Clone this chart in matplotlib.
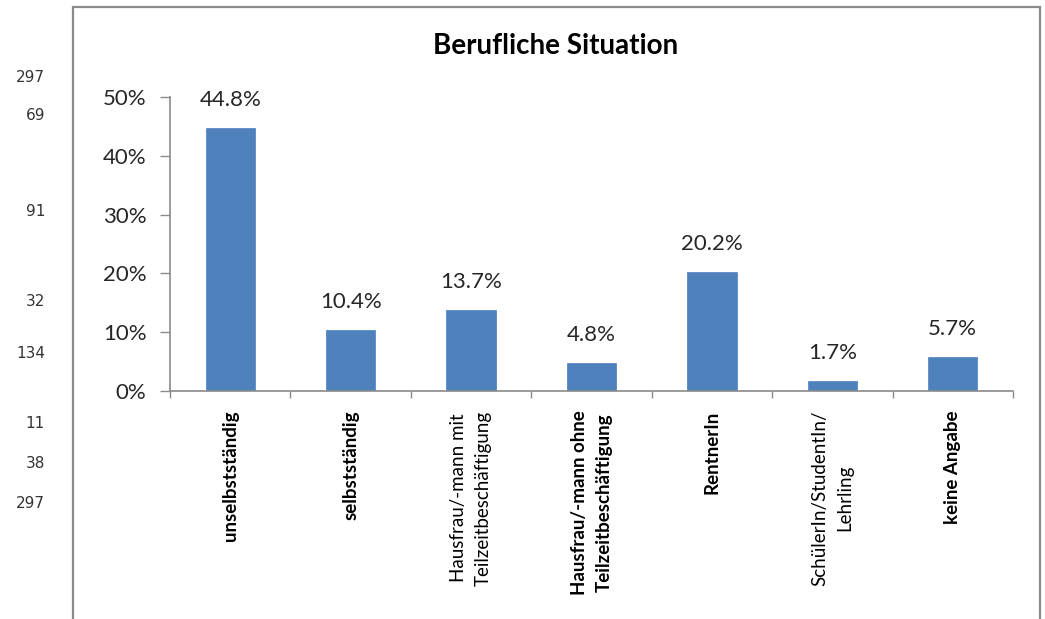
import matplotlib.pyplot as plt
import matplotlib.patches as mpatches

# %%
# Data
categories = [
    "unselbstständig",
    "selbstständig",
    "Hausfrau/-mann mit\nTeilzeitbeschäftigung",
    "Hausfrau/-mann ohne\nTeilzeitbeschäftigung",
    "RentnerIn",
    "SchülerIn/StudentIn/\nLehrling",
    "keine Angabe",
]
shares = [0.448, 0.104, 0.137, 0.048, 0.202, 0.017, 0.057]
share_labels = ["44.8%", "10.4%", "13.7%", "4.8%", "20.2%", "1.7%", "5.7%"]
yticks = [0, 0.1, 0.2, 0.3, 0.4, 0.5]
ytick_labels = ["0%", "10%", "20%", "30%", "40%", "50%"]

# numbers standing left of the chart frame
side_numbers = ["297", "69", "91", "32", "134", "11", "38", "297"]
side_y_px = [77, 116, 212, 302, 353, 423, 463, 503]

# %%
# Figure and frame
font = ["Lato", "DejaVu Sans"]
W, H = 1045, 619
fig = plt.figure(figsize=(W / 100, H / 100), dpi=100)

# chart frame (open at the bottom)
frame = mpatches.Rectangle(
    (73 / W, 1 - 630 / H), (1040 - 73) / W, (630 - 7) / H,
    transform=fig.transFigure, fill=False, edgecolor="#8a8a8a", lw=1.6,
)
fig.patches.append(frame)

for txt, ypx in zip(side_numbers, side_y_px):
    fig.text(45 / W, 1 - ypx / H, txt, ha="right", va="center",
             fontsize=11, color="#333333")

fig.text(556 / W, 1 - 46 / H, "Berufliche Situation", ha="center", va="center",
         fontsize=20, fontweight="bold", family=font, color="#000000")

# %%
# Plot area
ax = fig.add_axes([170 / W, 1 - 391 / H, (1013 - 170) / W, (391 - 97) / H])
x = list(range(len(categories)))
ax.bar(x, shares, width=0.41, color="#4f81bd", edgecolor="#5a8ac6", lw=0.6)

for xi, v, lab in zip(x, shares, share_labels):
    ax.annotate(lab, (xi, v), xytext=(0, 13), textcoords="offset points",
                ha="center", va="bottom", fontsize=16, family=font,
                color="#262626")

ax.set_xlim(-0.5, len(categories) - 0.5)
ax.set_ylim(0, 0.5)
ax.set_yticks(yticks)
ax.set_yticklabels(ytick_labels, fontsize=16, family=font, color="#262626")
ax.tick_params(axis="y", length=7, width=1, color="#8a8a8a", pad=10, direction="out")

ax.set_xticks(x)
ax.set_xticklabels(categories, rotation=90, va="top", ha="center",
                   multialignment="center", family=font, fontsize=13.5,
                   linespacing=1.55)
ax.set_xticks([i - 0.5 for i in range(len(categories) + 1)], minor=True)
ax.tick_params(axis="x", which="major", length=0, pad=14)
ax.tick_params(axis="x", which="minor", length=5, width=1, color="#8a8a8a",
               direction="out")

weights = ["bold", "bold", "normal", "bold", "bold", "normal", "bold"]
for t, w in zip(ax.get_xticklabels(), weights):
    t.set_fontweight(w)

for s in ["top", "right"]:
    ax.spines[s].set_visible(False)
for s in ["left", "bottom"]:
    ax.spines[s].set_color("#8a8a8a")
    ax.spines[s].set_linewidth(1.2)

fig.savefig("out.png", dpi=100)
